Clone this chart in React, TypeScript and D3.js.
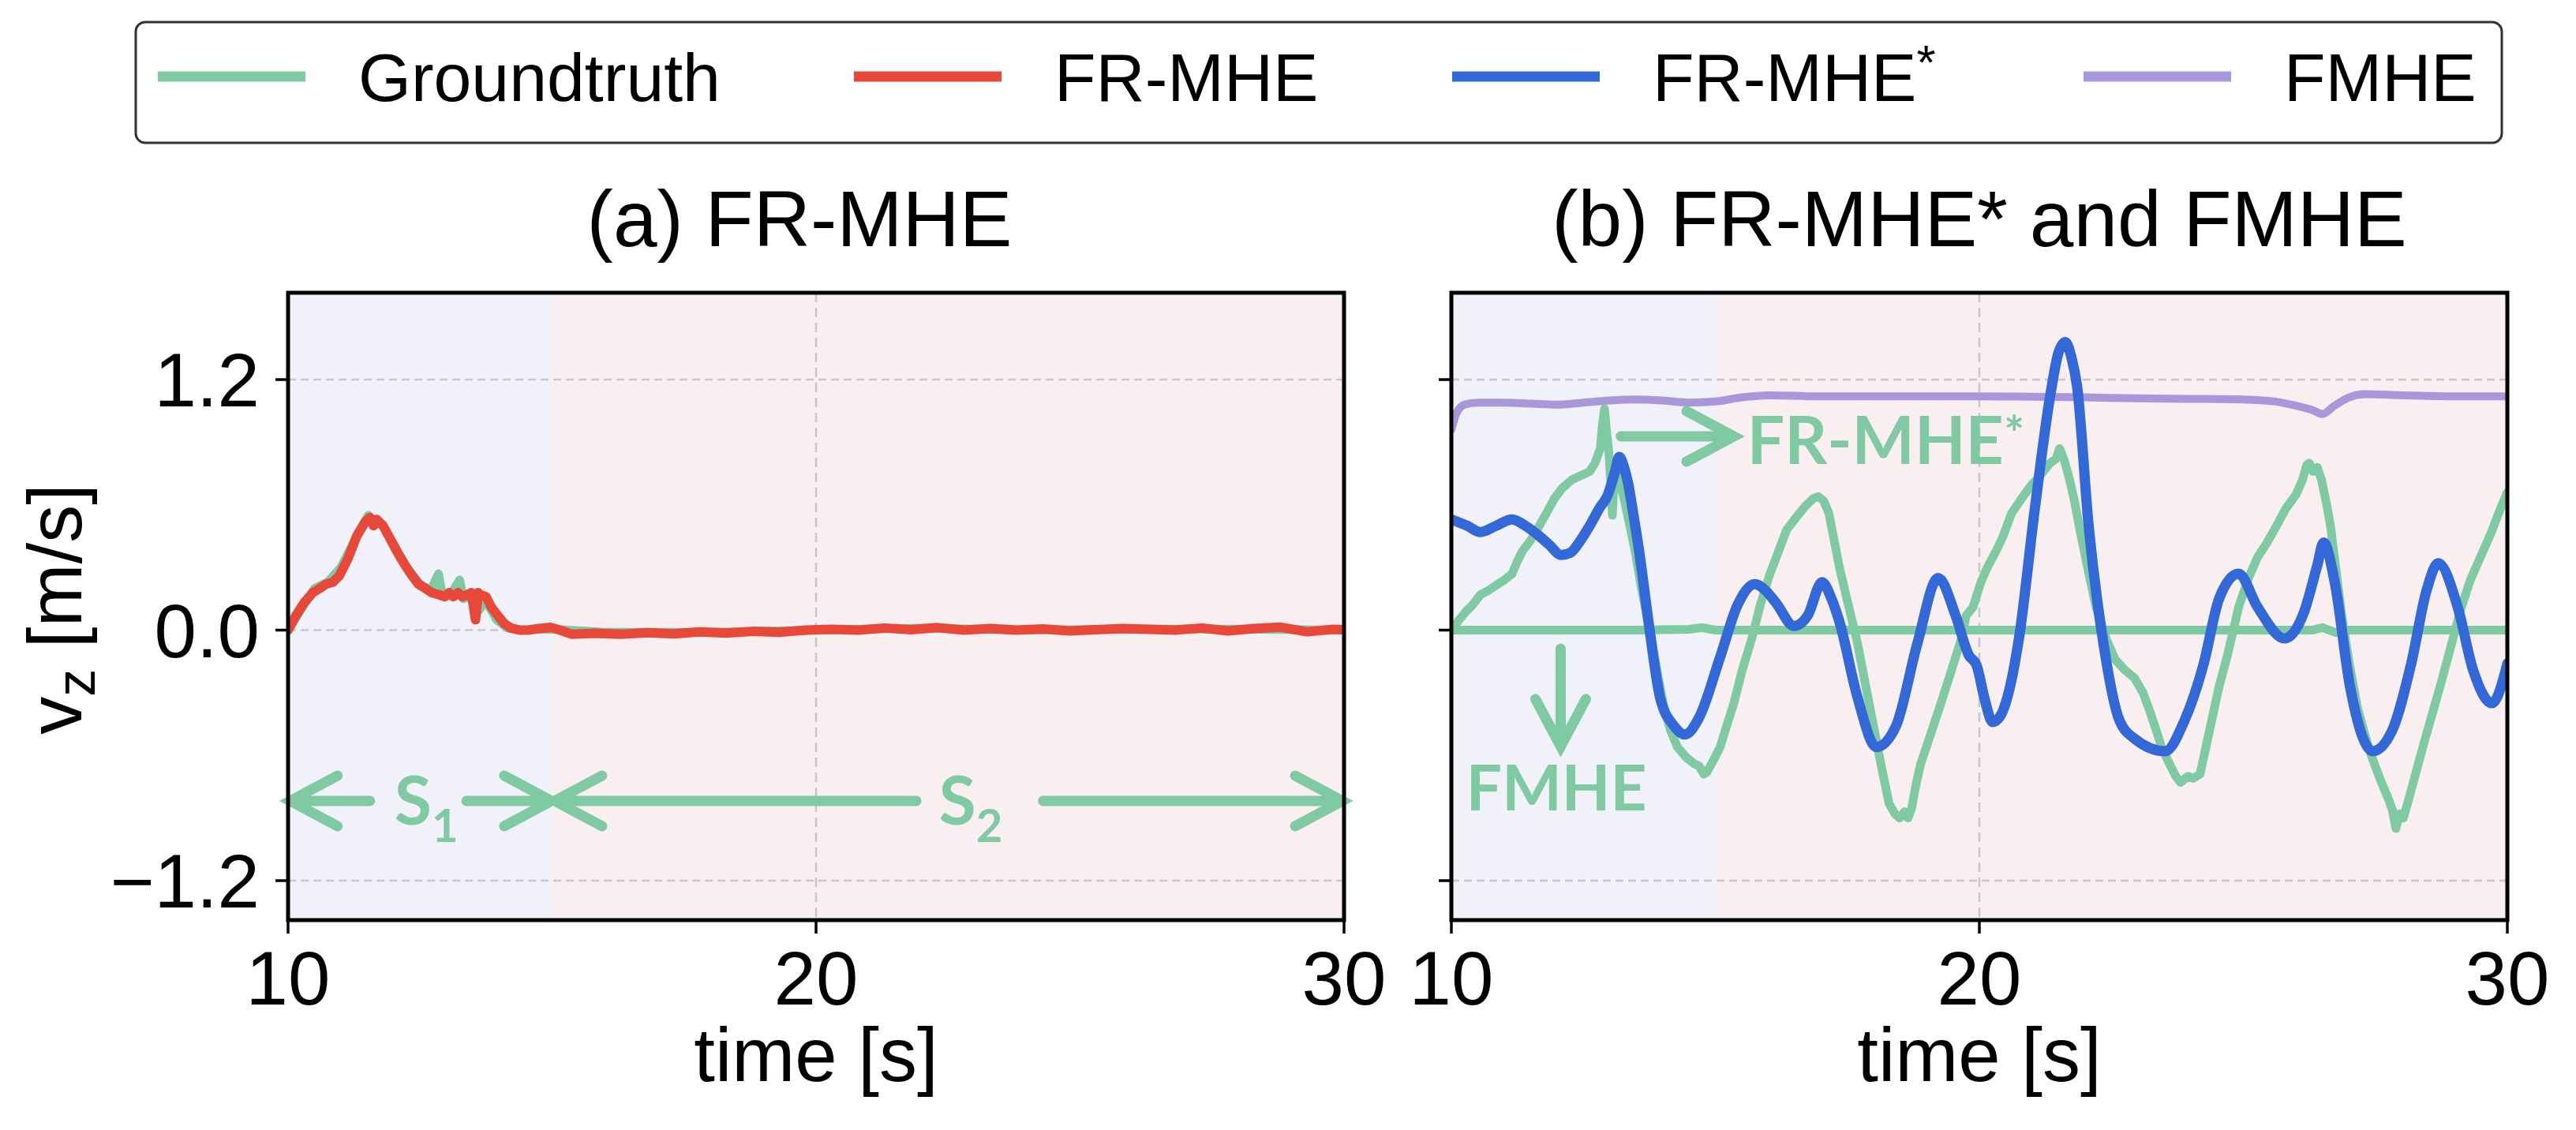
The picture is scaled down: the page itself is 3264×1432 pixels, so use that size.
import React from 'react';
import * as d3 from 'd3';

// Shared axis settings
const timeTicks = [10, 20, 30];
const velTicks = [-1.2, 0, 1.2];
const phaseS1: [number, number] = [10, 15];
const phaseS2: [number, number] = [15, 30];

// (a) groundtruth and FR-MHE estimate
const gtLeft: [number, number][] = [
  [10, 0], [10.3, 0.12], [10.5, 0.2], [10.75, 0.23], [11.0, 0.3], [11.2, 0.4], [11.4, 0.5],
  [11.52, 0.55], [11.65, 0.52], [11.8, 0.5], [12.0, 0.41], [12.25, 0.3], [12.5, 0.22],
  [12.7, 0.19], [12.85, 0.27], [12.92, 0.17], [13.1, 0.18], [13.25, 0.24], [13.32, 0.15],
  [13.5, 0.17], [13.6, 0.09], [13.75, 0.14], [13.95, 0.05], [14.15, 0.01], [14.4, 0.0],
  [15, 0.005], [16, -0.01], [18, -0.01], [20, 0.0], [22, 0.01], [24, 0.0], [26, 0.005],
  [28, 0.005], [30, 0.0],
];

const frMhe: [number, number][] = [
  [10, 0], [10.15, 0.07], [10.3, 0.13], [10.47, 0.18], [10.6, 0.2], [10.72, 0.22], [10.85, 0.23],
  [10.97, 0.26], [11.13, 0.34], [11.3, 0.45], [11.47, 0.52], [11.55, 0.54], [11.62, 0.5],
  [11.68, 0.53], [11.8, 0.5], [11.97, 0.42], [12.1, 0.36], [12.22, 0.31], [12.35, 0.26],
  [12.47, 0.22], [12.6, 0.2], [12.72, 0.18], [12.85, 0.17], [12.97, 0.16], [13.05, 0.18],
  [13.13, 0.16], [13.22, 0.18], [13.3, 0.16], [13.4, 0.17], [13.47, 0.18], [13.52, 0.1],
  [13.55, 0.05], [13.6, 0.18], [13.63, 0.17], [13.75, 0.16], [13.85, 0.11], [13.97, 0.07],
  [14.1, 0.03], [14.22, 0.01], [14.4, 0.0], [14.55, 0.0], [14.75, 0.008], [14.97, 0.013],
  [15.15, 0.0], [15.38, -0.02], [15.8, -0.015], [16.3, -0.02], [16.8, -0.012], [17.3, -0.018],
  [17.8, -0.008], [18.3, -0.014], [18.8, -0.006], [19.3, -0.01], [19.8, 0.0], [20.3, 0.004],
  [20.8, 0.0], [21.3, 0.01], [21.8, 0.002], [22.3, 0.012], [22.8, 0.0], [23.3, 0.008],
  [23.8, 0.0], [24.3, 0.006], [24.8, -0.004], [25.3, 0.002], [25.8, 0.008], [26.3, 0.004],
  [26.8, 0.0], [27.3, 0.01], [27.8, -0.004], [28.3, 0.008], [28.8, 0.014], [29.3, -0.008],
  [29.8, 0.004], [30, 0.002],
];

// (b) groundtruth, FR-MHE* and FMHE estimates
const gtFlat: [number, number][] = [
  [10, 0], [12, 0], [13.5, 0], [14.5, 0.004], [14.75, 0.012], [15, 0.0], [17, 0], [20, 0],
  [23, 0], [26.3, 0], [26.5, 0.012], [26.75, -0.012], [27, 0], [30, 0],
];

const gtOsc: [number, number][] = [
  [10, 0], [10.15, 0.05], [10.28, 0.09], [10.4, 0.12], [10.55, 0.17], [10.7, 0.19], [10.88, 0.22],
  [11.0, 0.24], [11.15, 0.27], [11.25, 0.33], [11.35, 0.38], [11.5, 0.43], [11.62, 0.48],
  [11.8, 0.56], [11.95, 0.63], [12.1, 0.68], [12.28, 0.72], [12.45, 0.74], [12.62, 0.76],
  [12.72, 0.8], [12.82, 0.87], [12.86, 0.98], [12.9, 1.06], [12.94, 0.95], [12.98, 0.86],
  [13.02, 0.7], [13.05, 0.55], [13.08, 0.72], [13.12, 0.78], [13.2, 0.7], [13.28, 0.62],
  [13.38, 0.5], [13.48, 0.38], [13.6, 0.2], [13.75, 0.01], [13.9, -0.2], [14.02, -0.36],
  [14.15, -0.48], [14.28, -0.56], [14.45, -0.61], [14.6, -0.64], [14.69, -0.65], [14.78, -0.69],
  [14.84, -0.68], [14.95, -0.63], [15.09, -0.56], [15.2, -0.47], [15.35, -0.35], [15.5, -0.2],
  [15.69, -0.04], [15.85, 0.12], [16.02, 0.26], [16.2, 0.38], [16.35, 0.48], [16.5, 0.53],
  [16.69, 0.59], [16.85, 0.63], [16.95, 0.64], [17.05, 0.62], [17.15, 0.56], [17.25, 0.43],
  [17.35, 0.3], [17.5, 0.14], [17.69, -0.06], [17.85, -0.27], [18.02, -0.49], [18.15, -0.66],
  [18.29, -0.83], [18.4, -0.88], [18.49, -0.9], [18.58, -0.87], [18.65, -0.9], [18.72, -0.85],
  [18.8, -0.74], [18.89, -0.64], [19.05, -0.52], [19.22, -0.39], [19.4, -0.25], [19.55, -0.13],
  [19.65, -0.05], [19.75, 0.07], [19.88, 0.11], [20.03, 0.23], [20.15, 0.3], [20.32, 0.38],
  [20.45, 0.45], [20.61, 0.56], [20.8, 0.63], [20.97, 0.69], [21.15, 0.74], [21.34, 0.8],
  [21.45, 0.82], [21.52, 0.87], [21.6, 0.82], [21.7, 0.73], [21.8, 0.62], [21.92, 0.46],
  [22.05, 0.3], [22.21, 0.11], [22.4, -0.04], [22.57, -0.14], [22.75, -0.19], [22.94, -0.23],
  [23.1, -0.3], [23.23, -0.39], [23.35, -0.48], [23.45, -0.56], [23.6, -0.64], [23.72, -0.7],
  [23.81, -0.73], [23.95, -0.7], [24.05, -0.71], [24.18, -0.69], [24.3, -0.55], [24.42, -0.41],
  [24.54, -0.27], [24.7, -0.12], [24.91, 0.11], [25.1, 0.25], [25.27, 0.35], [25.45, 0.42],
  [25.63, 0.5], [25.8, 0.58], [26.0, 0.65], [26.12, 0.72], [26.2, 0.79], [26.25, 0.8],
  [26.32, 0.76], [26.4, 0.78], [26.48, 0.72], [26.58, 0.6], [26.65, 0.5], [26.75, 0.3],
  [26.87, 0.06], [27.0, -0.15], [27.16, -0.37], [27.3, -0.5], [27.45, -0.62], [27.6, -0.72],
  [27.75, -0.81], [27.82, -0.86], [27.89, -0.95], [27.96, -0.88], [28.03, -0.9], [28.11, -0.83],
  [28.25, -0.7], [28.4, -0.56], [28.58, -0.4], [28.77, -0.23], [28.95, -0.06], [29.13, 0.11],
  [29.3, 0.24], [29.49, 0.35], [29.7, 0.47], [29.85, 0.57], [30, 0.66],
];

const frMheStar: [number, number][] = [
  [10.0, 0.53], [10.3, 0.5], [10.55, 0.47], [10.85, 0.5], [11.15, 0.53], [11.4, 0.5],
  [11.62, 0.46], [11.85, 0.41], [12.08, 0.36], [12.25, 0.37], [12.42, 0.42], [12.62, 0.5],
  [12.82, 0.59], [12.95, 0.64], [13.1, 0.76], [13.18, 0.83], [13.27, 0.78], [13.35, 0.7],
  [13.45, 0.55], [13.55, 0.39], [13.75, 0.01], [13.95, -0.32], [14.22, -0.46], [14.42, -0.5],
  [14.69, -0.42], [15.09, -0.13], [15.42, 0.12], [15.75, 0.22], [15.95, 0.19], [16.15, 0.13],
  [16.49, 0.02], [16.75, 0.07], [17.02, 0.23], [17.2, 0.15], [17.35, 0.04], [17.69, -0.32],
  [18.05, -0.56], [18.42, -0.46], [18.82, -0.07], [19.22, 0.25], [19.55, 0.07], [19.8, -0.12],
  [19.95, -0.17], [20.1, -0.33], [20.25, -0.44], [20.4, -0.41], [20.6, -0.25], [20.75, -0.04],
  [21.05, 0.58], [21.34, 1.12], [21.5, 1.33], [21.63, 1.38], [21.75, 1.3], [21.85, 1.17],
  [22.07, 0.5], [22.36, -0.08], [22.65, -0.43], [22.94, -0.52], [23.52, -0.58], [23.89, -0.43],
  [24.25, -0.16], [24.54, 0.15], [24.91, 0.27], [25.27, 0.11], [25.78, -0.04], [26.14, 0.08],
  [26.4, 0.31], [26.52, 0.42], [26.73, 0.23], [27.02, -0.27], [27.45, -0.58], [27.82, -0.48],
  [28.18, -0.16], [28.47, 0.19], [28.69, 0.32], [29.06, 0.11], [29.35, -0.19], [29.71, -0.35],
  [29.97, -0.19], [30, -0.16],
];

const fmhe: [number, number][] = [
  [10, 0.96], [10.1, 1.04], [10.25, 1.08], [10.5, 1.09], [11, 1.09], [11.5, 1.085], [12, 1.08],
  [12.5, 1.09], [13, 1.1], [13.5, 1.105], [14, 1.1], [14.5, 1.09], [15, 1.095], [15.5, 1.115],
  [16, 1.125], [17, 1.12], [18, 1.12], [19, 1.12], [20, 1.12], [21, 1.118], [22, 1.115],
  [23, 1.11], [24, 1.108], [25, 1.105], [25.6, 1.095], [26.0, 1.075], [26.3, 1.055],
  [26.5, 1.035], [26.7, 1.07], [27.0, 1.115], [27.3, 1.13], [28, 1.125], [29, 1.12], [30, 1.12],
];

// phase arrows in (a): [from, to] in seconds, drawn at one height
const phaseArrows: [number, number][] = [[11.55, 10.04], [13.38, 14.99], [21.9, 15.05], [24.3, 29.97]];
const phaseLabels = [{ t: 12.62, sub: '1' }, { t: 22.93, sub: '2' }];

const GREEN = '#7fc9a3';
const RED = '#e8483a';
const BLUE = '#3268d8';
const PURPLE = '#a997db';
const BG_S1 = '#f0f1f9';
const BG_S2 = '#f9eff0';

const W = 3264;
const H = 1432;
const TOP = 371;
const BOTTOM = 1166;
const FONT = "'Liberation Sans', Arial, sans-serif";
const NOTE_FONT = "Lato, 'Open Sans', sans-serif";

const y = d3.scaleLinear().domain([-1.389, 1.616]).range([BOTTOM, TOP]);

type Series = { data: [number, number][]; color: string; width: number; smooth?: boolean };

function arrowPath(x1: number, y1: number, x2: number, y2: number) {
  const len = Math.hypot(x2 - x1, y2 - y1);
  const ux = (x2 - x1) / len;
  const uy = (y2 - y1) / len;
  const back = 60;
  const side = 32;
  const ax = x2 - ux * back;
  const ay = y2 - uy * back;
  return `M${x1},${y1}L${x2},${y2}M${ax - uy * side},${ay + ux * side}L${x2},${y2}L${ax + uy * side},${ay - ux * side}`;
}

function Panel({ left, id, series, yLabels, children }: {
  left: number; id: string; series: Series[]; yLabels: boolean;
  children?: (x: d3.ScaleLinear<number, number>) => React.ReactNode;
}) {
  const x = d3.scaleLinear().domain([10, 30]).range([left, left + 1338]);
  const mk = (smooth?: boolean) => d3.line<[number, number]>()
    .x(d => x(d[0])).y(d => y(d[1]))
    .curve(smooth ? d3.curveMonotoneX : d3.curveLinear);

  return (
    <g>
      <defs>
        <clipPath id={id}>
          <rect x={x(10)} y={TOP} width={x(30) - x(10)} height={BOTTOM - TOP} />
        </clipPath>
      </defs>
      <rect x={x(phaseS1[0])} y={TOP} width={x(phaseS1[1]) - x(phaseS1[0])} height={BOTTOM - TOP} fill={BG_S1} />
      <rect x={x(phaseS2[0])} y={TOP} width={x(phaseS2[1]) - x(phaseS2[0])} height={BOTTOM - TOP} fill={BG_S2} />
      {velTicks.map(v => (
        <line key={v} x1={x(10)} x2={x(30)} y1={y(v)} y2={y(v)} stroke="#c6c6cc" strokeWidth={2.5} strokeDasharray="10,6" />
      ))}
      <line x1={x(20)} x2={x(20)} y1={TOP} y2={BOTTOM} stroke="#c6c6cc" strokeWidth={2.5} strokeDasharray="12,7" />
      <g clipPath={`url(#${id})`}>
        {series.map((s, i) => (
          <path key={i} d={mk(s.smooth)(s.data) || ''} fill="none" stroke={s.color}
            strokeWidth={s.width} strokeLinejoin="round" strokeLinecap="round" />
        ))}
      </g>
      {children && children(x)}
      <rect x={x(10)} y={TOP} width={x(30) - x(10)} height={BOTTOM - TOP} fill="none" stroke="#000" strokeWidth={5} />
      {velTicks.map(v => (
        <g key={v}>
          <line x1={x(10) - 16} x2={x(10)} y1={y(v)} y2={y(v)} stroke="#000" strokeWidth={3.5} />
          {yLabels && (
            <text x={x(10) - 36} y={y(v) + 34} textAnchor="end" fontSize={96} fontFamily={FONT}>
              {v === 0 ? '0.0' : v < 0 ? `\u2212${Math.abs(v).toFixed(1)}` : v.toFixed(1)}
            </text>
          )}
        </g>
      ))}
      {timeTicks.map(t => (
        <g key={t}>
          <line x1={x(t)} x2={x(t)} y1={BOTTOM} y2={BOTTOM + 17} stroke="#000" strokeWidth={3.5} />
          <text x={x(t)} y={1273} textAnchor="middle" fontSize={96} fontFamily={FONT}>{t}</text>
        </g>
      ))}
      <text x={x(20)} y={1370} textAnchor="middle" fontSize={96} fontFamily={FONT}>time [s]</text>
    </g>
  );
}

const legendItems = [
  { label: 'Groundtruth', color: GREEN, x: 200, star: false },
  { label: 'FR-MHE', color: RED, x: 1082, star: false },
  { label: 'FR-MHE', color: BLUE, x: 1840, star: true },
  { label: 'FMHE', color: PURPLE, x: 2640, star: false },
];

export default function App() {
  return (
    <div style={{ position: 'absolute', left: 0, top: 0 }}>
      <svg width={W} height={H} style={{ display: 'block', background: '#fff' }}>
        {/* legend */}
        <rect x={172} y={28} width={2998} height={153} rx={12} fill="#fff" stroke="#333" strokeWidth={3} />
        {legendItems.map(it => (
          <g key={it.x}>
            <line x1={it.x} x2={it.x + 187} y1={97} y2={97} stroke={it.color} strokeWidth={13} />
            <text x={it.x + 254} y={128} fontSize={86} fontFamily={FONT}>
              {it.label}
              {it.star && <tspan fontSize={62} dy={-28}>*</tspan>}
            </text>
          </g>
        ))}

        {/* titles */}
        <text x={1013} y={312} textAnchor="middle" fontSize={100} fontFamily={FONT}>(a) FR-MHE</text>
        <text x={2508} y={312} textAnchor="middle" fontSize={100} fontFamily={FONT}>(b) FR-MHE* and FMHE</text>

        {/* y label */}
        <text transform="translate(103,772) rotate(-90)" textAnchor="middle" fontSize={96} fontFamily={FONT}>
          v<tspan fontSize={70} dy={17}>z</tspan><tspan dy={-17}>{'\u00a0[m/s]'}</tspan>
        </text>

        <Panel left={365} id="clipA" yLabels
          series={[
            { data: gtLeft, color: GREEN, width: 11 },
            { data: frMhe, color: RED, width: 12 },
          ]}>
          {x => (
            <g>
              {phaseArrows.map(([a, b], i) => (
                <path key={i} d={arrowPath(x(a), y(-0.818), x(b), y(-0.818))} fill="none" stroke={GREEN}
                  strokeWidth={13} strokeLinecap="round" strokeLinejoin="miter" />
              ))}
              {phaseLabels.map(p => (
                <text key={p.sub} x={x(p.t)} y={y(-0.932)} textAnchor="middle" fill={GREEN}
                  fontSize={86} fontWeight="bold" fontFamily={NOTE_FONT}>
                  S<tspan fontSize={58} dy={22}>{p.sub}</tspan>
                </text>
              ))}
            </g>
          )}
        </Panel>

        <Panel left={1839} id="clipB" yLabels={false}
          series={[
            { data: fmhe, color: PURPLE, width: 10, smooth: true },
            { data: gtFlat, color: GREEN, width: 11 },
            { data: gtOsc, color: GREEN, width: 11 },
            { data: frMheStar, color: BLUE, width: 13, smooth: true },
          ]}>
          {x => (
            <g>
              <path d={arrowPath(x(13.21), y(0.928), x(15.35), y(0.928))} fill="none" stroke={GREEN}
                strokeWidth={13} strokeLinecap="round" strokeLinejoin="miter" />
              <text x={x(15.6)} y={y(0.795)} fill={GREEN} fontSize={84} fontWeight="bold" fontFamily={NOTE_FONT}>
                FR-MHE<tspan fontSize={62} dy={-16}>*</tspan>
              </text>
              <path d={arrowPath(x(12.07), y(-0.089), x(12.07), y(-0.557))} fill="none" stroke={GREEN}
                strokeWidth={13} strokeLinecap="round" strokeLinejoin="miter" />
              <text x={x(11.99)} y={y(-0.864)} textAnchor="middle" fill={GREEN} fontSize={80}
                fontWeight="bold" fontFamily={NOTE_FONT}>FMHE</text>
            </g>
          )}
        </Panel>
      </svg>
    </div>
  );
}
